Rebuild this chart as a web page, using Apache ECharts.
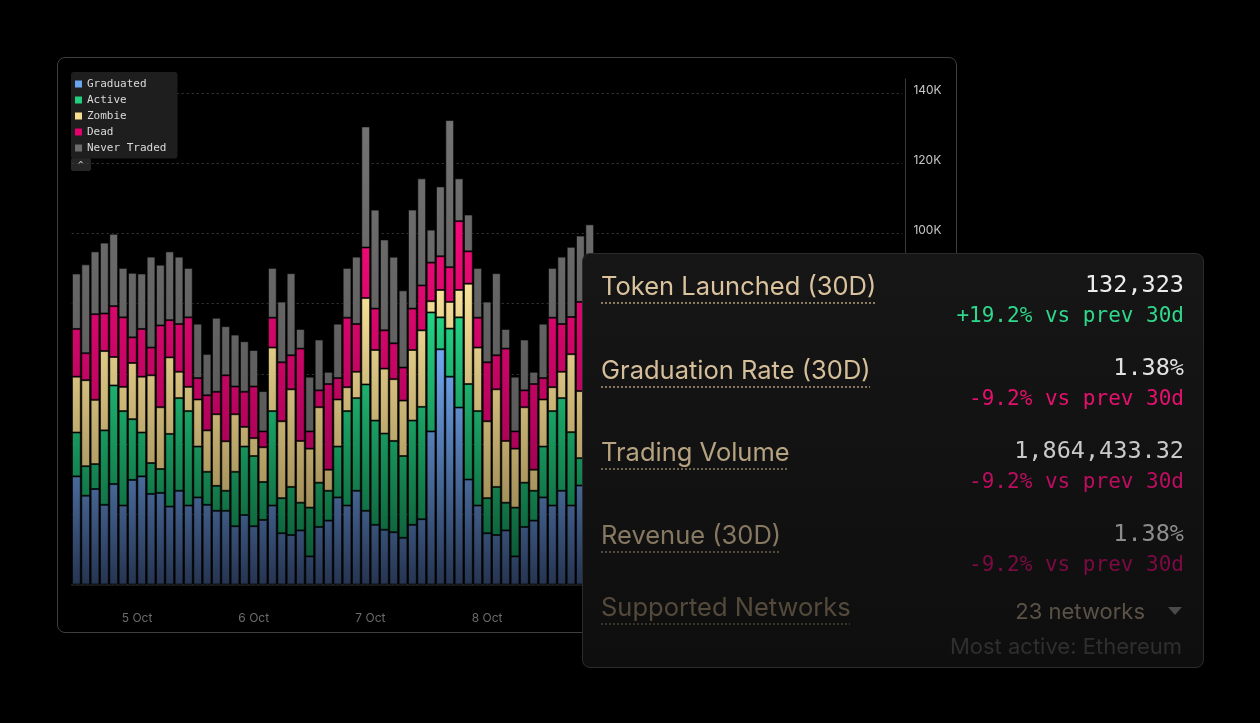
<!DOCTYPE html>
<html>
<head>
<meta charset="utf-8">
<script src="https://cdn.jsdelivr.net/npm/echarts@6/dist/echarts.min.js"></script>
<style>
  html, body { margin: 0; padding: 0; background: #000; width: 1260px; height: 723px; overflow: hidden; }
  #panel { position: absolute; left: 57px; top: 57px; width: 900px; height: 576px; box-sizing: border-box;
           border: 1.5px solid #3e3e3e; border-radius: 8px; }
  #main { position: absolute; left: 0; top: 0; width: 1260px; height: 723px; }
  #card { position: absolute; left: 582px; top: 253px; width: 622px; height: 415px; box-sizing: border-box;
          border: 1px solid #2b2b2b; border-radius: 8px; background: linear-gradient(#161616, #0e0e0e);
          font-family: Inter, "Noto Sans", sans-serif; }
  #card div { position: absolute; white-space: nowrap; line-height: 1; }
  .lbl { left: 18px; font-size: 25.5px; text-decoration: underline dotted; text-underline-offset: 7px;
         text-decoration-thickness: 1.5px; }
  .val { right: 19px; font-family: "DejaVu Sans Mono", monospace; font-size: 23.5px; }
  .chg { right: 19px; font-family: "DejaVu Sans Mono", monospace; font-size: 21px; }
</style>
</head>
<body>
<div id="panel"></div>
<div id="main"></div>
<div id="card">
  <div class="lbl" style="top:19px;color:#d9c29d;text-decoration-color:#8c7c62">Token Launched (30D)</div>
  <div class="val" style="top:19px;color:#ececec">132,323</div>
  <div class="chg" style="top:51px;color:#2fd88b">+19.2% vs prev 30d</div>

  <div class="lbl" style="top:103px;color:#d5bf9a;text-decoration-color:#867660">Graduation Rate (30D)</div>
  <div class="val" style="top:102px;color:#e2e2e2">1.38%</div>
  <div class="chg" style="top:134px;color:#e6106e">-9.2% vs prev 30d</div>

  <div class="lbl" style="top:185px;color:#b6a381;text-decoration-color:#6e634f">Trading Volume</div>
  <div class="val" style="top:185px;color:#c9c9c9">1,864,433.32</div>
  <div class="chg" style="top:217px;color:#bd0d61">-9.2% vs prev 30d</div>

  <div class="lbl" style="top:268px;color:#877862;text-decoration-color:#544a3c">Revenue (30D)</div>
  <div class="val" style="top:268px;color:#8d8d8d">1.38%</div>
  <div class="chg" style="top:300px;color:#7e0a44">-9.2% vs prev 30d</div>

  <div class="lbl" style="top:340px;color:#544a3b;text-decoration-color:#3a332a">Supported Networks</div>
  <div style="top:346px;right:58px;font-size:22px;color:#5b5247">23 networks</div>
  <div style="top:353px;right:21px;width:0;height:0;border-left:7.5px solid transparent;border-right:7.5px solid transparent;border-top:8px solid #4a4a4a"></div>
  <div style="top:381px;right:21px;font-size:22px;color:#2f2f2f">Most active: Ethereum</div>
</div>
<script>
var chartDom = document.getElementById('main');
var myChart = echarts.init(chartDom);
var option;

// 89 time buckets on the axis; only the first 56 show, the rest sit behind the stats card
var bucketCount = 89;
var buckets = [];
for (var i = 0; i < bucketCount; i++) buckets.push('bucket ' + (i + 1));

// day labels: bucket index and whether the midnight falls between two bars
var dayLabels = ['5 Oct', '6 Oct', '7 Oct', '8 Oct', '9 Oct', '10 Oct', '11 Oct'];
var dayLabelBucket = [6, 19, 31, 44, 56, 69, 81];
var dayLabelHalf = [1, 0, 1, 0, 1, 0, 1];

var seriesNames = ['Graduated', 'Active', 'Zombie', 'Dead', 'Never Traded'];

// tokens per bucket (bottom to top of each stack)
var graduated = [30800, 25300, 27200, 22700, 28600, 22500, 29800, 30800, 25800, 26100, 22200, 26700, 22500, 24800,
  22700, 21000, 21000, 16600, 19800, 16600, 18400, 22500, 14600, 14100, 15400, 8000, 16400, 18200, 24800, 22500,
  26700, 21000, 17000, 15600, 14900, 13300, 17000, 18600, 43600, 67000, 59200, 50400, 29900, 22500, 14600, 14100,
  15400, 8000, 16400, 18200, 24800, 22500, 26700, 22500, 28200, 24000];
var active = [12500, 8400, 7100, 21200, 28100, 26900, 17300, 12500, 8800, 6800, 20700, 26400, 26900, 14500,
  9400, 7100, 5700, 15500, 19500, 20000, 10800, 26900, 10000, 13700, 7900, 13900, 12600, 8500, 14500, 26900,
  26400, 36000, 29700, 27400, 26000, 23300, 29700, 32000, 33900, 9100, 13700, 25700, 27200, 26900, 10000, 13700,
  7900, 13900, 12600, 8500, 14500, 26900, 26400, 20900, 7800, 22000];
var zombie = [15900, 24500, 18300, 22600, 8100, 6900, 16000, 15900, 25000, 17600, 21800, 7500, 6900, 13400,
  11800, 20400, 14100, 16400, 5600, 5100, 9900, 18100, 21900, 27800, 17600, 16800, 21500, 6000, 13400, 6800,
  7500, 24600, 20100, 18500, 17600, 15800, 20100, 21800, 3200, 7800, 7600, 7800, 28600, 18100, 21900, 27800,
  17600, 16800, 21500, 6000, 13400, 6800, 7500, 22200, 19100, 20000];
var dead = [13600, 7700, 24400, 10700, 14500, 19800, 7300, 13600, 7900, 23300, 10600, 13600, 19800, 6100,
  10000, 6400, 18800, 7900, 10000, 14700, 4500, 8500, 16800, 9700, 26300, 4900, 4800, 24400, 6100, 19800,
  13600, 14400, 11800, 10900, 10200, 9400, 11800, 12800, 11000, 9600, 9900, 19600, 9200, 8500, 16800, 9700,
  26300, 4900, 4800, 24400, 6100, 19800, 13600, 10600, 25400, 14000];
var neverTraded = [15800, 25300, 17900, 20200, 20600, 14100, 18400, 15800, 25900, 17300, 19600, 19200, 14100, 15500,
  11800, 21100, 14000, 14800, 14400, 10400, 11500, 14200, 17300, 23400, 5600, 15600, 14500, 3500, 15500, 14200,
  19200, 34500, 28200, 25900, 24700, 22000, 28200, 30500, 9400, 19900, 41900, 12200, 10500, 14200, 17300, 23400,
  5600, 15600, 14500, 3500, 15500, 14200, 19200, 20000, 18900, 22600];

var seriesData = [graduated, active, zombie, dead, neverTraded];
var legendColors = ['#6aa6f0', '#20cf80', '#f6de90', '#e5006c', '#6c6c6c'];
// vertical gradients in page pixels: [y top, y bottom, colour top, colour bottom]
var fills = [
  [340, 590, '#75aef8', '#24324d'],
  [300, 590, '#25da89', '#0a4a2c'],
  [280, 570, '#fbe49b', '#8a7746'],
  [230, 520, '#f20a76', '#94004f'],
  [120, 460, '#737373', '#585858']
];

var series = seriesNames.map(function (name, i) {
  var f = fills[i];
  return {
    name: name,
    type: 'bar',
    stack: 'tokens',
    barCategoryGap: '6%',
    data: seriesData[i],
    emphasis: { disabled: true },
    itemStyle: {
      color: new echarts.graphic.LinearGradient(0, f[0], 0, f[1], [
        { offset: 0, color: f[2] },
        { offset: 1, color: f[3] }
      ], true),
      borderColor: 'rgba(0,0,0,0.6)',
      borderWidth: 1
    }
  };
});

option = {
  backgroundColor: 'transparent',
  animation: false,
  textStyle: { fontFamily: 'Inter' },
  grid: { left: 71.7, right: 357.6, top: 79, bottom: 138.5 },
  legend: {
    orient: 'vertical',
    left: 71,
    top: 72,
    backgroundColor: '#1e1e1e',
    borderRadius: 3,
    padding: [6.5, 11, 5, 4],
    itemWidth: 7,
    itemHeight: 7,
    itemGap: 5,
    icon: 'rect',
    selectedMode: false,
    textStyle: { color: '#dadada', fontFamily: 'DejaVu Sans Mono', fontSize: 11, lineHeight: 11 },
    data: seriesNames.map(function (n, i) {
      return { name: n, itemStyle: { color: legendColors[i], borderWidth: 0 } };
    })
  },
  graphic: [
    { type: 'rect', left: 71, top: 158, shape: { width: 20, height: 13, r: 2 }, style: { fill: '#262626' } },
    { type: 'text', left: 77.5, top: 161, style: { text: '^', fill: '#bdbdbd', font: '11px "DejaVu Sans Mono"' } }
  ],
  xAxis: {
    type: 'category',
    data: buckets,
    axisLine: { lineStyle: { color: '#222', width: 1.5 } },
    axisTick: { show: false },
    axisLabel: {
      margin: 28,
      color: '#6c6c6c',
      fontSize: 12,
      interval: function (idx) { return dayLabelBucket.indexOf(idx) >= 0; },
      formatter: function (v, idx) {
        var k = dayLabelBucket.indexOf(idx);
        if (k < 0) return '';
        return (dayLabelHalf[k] ? '{h|' : '{n|') + dayLabels[k] + '}';
      },
      rich: {
        h: { padding: [0, 0, 0, 9.3], color: '#6c6c6c', fontSize: 12, fontFamily: 'Inter' },
        n: { color: '#6c6c6c', fontSize: 12, fontFamily: 'Inter' }
      }
    }
  },
  yAxis: {
    type: 'value',
    position: 'right',
    offset: 3,
    min: 0,
    max: 144000,
    interval: 20000,
    axisLine: { show: true, lineStyle: { color: '#3a3a3a' } },
    axisTick: { show: false },
    axisLabel: {
      margin: 8,
      showMaxLabel: false,
      formatter: function (v) { return '{k|' + v / 1000 + 'K}'; },
      rich: {
        k: { color: '#c6c6c6', fontSize: 12, fontFamily: 'Inter', padding: [0, 0, 6, 0] }
      }
    },
    splitLine: { showMaxLine: false, lineStyle: { color: '#393939', type: [2, 3] } }
  },
  series: series
};

option && myChart.setOption(option);
</script>
</body>
</html>
